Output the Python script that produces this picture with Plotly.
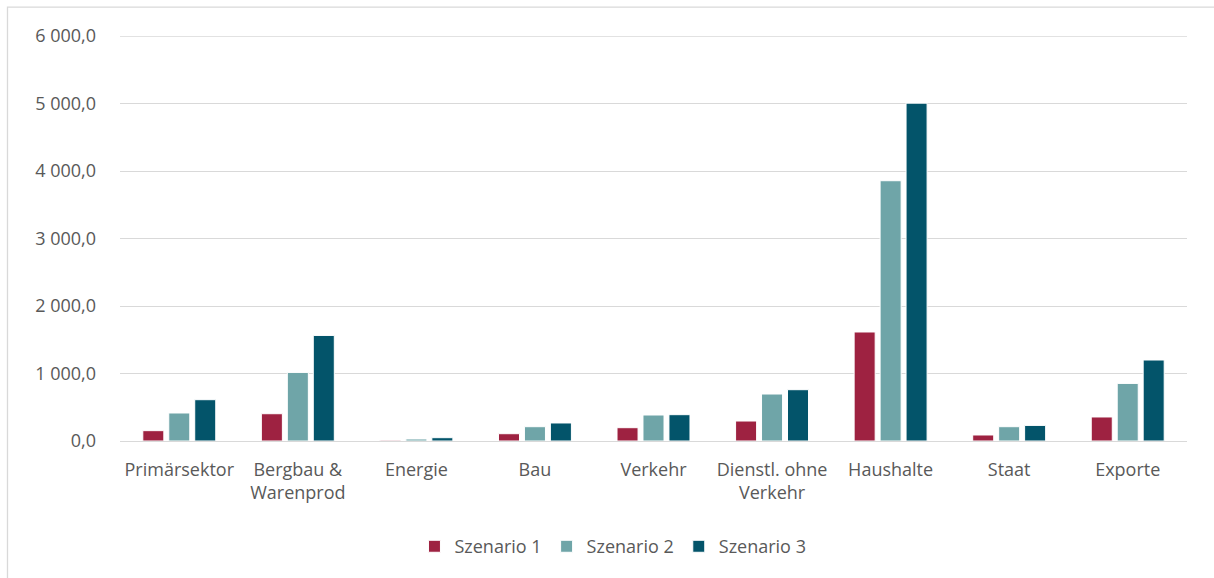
import plotly.graph_objects as go

categories = ["Primärsektor", "Bergbau &<br>Warenprod", "Energie", "Bau", "Verkehr",
              "Dienstl. ohne<br>Verkehr", "Haushalte", "Staat", "Exporte"]
szenario1 = [153, 404, 12, 108, 197, 296, 1615, 89, 356]
szenario2 = [415, 1016, 30, 212, 385, 696, 3856, 212, 853]
szenario3 = [612, 1564, 49, 267, 390, 760, 5005, 231, 1200]
series_names = ["Szenario 1", "Szenario 2", "Szenario 3"]
colors = ["#9E2241", "#6FA5A8", "#03546A"]
y_ticks = [0, 1000, 2000, 3000, 4000, 5000, 6000]
y_tick_labels = ["0,0", "1 000,0", "2 000,0", "3 000,0", "4 000,0", "5 000,0", "6 000,0"]

W, H = 1214, 578
L, R, T, B = 120, 1187, 35.5, 441.5

fig = go.Figure()
for name, vals, c in zip(series_names, [szenario1, szenario2, szenario3], colors):
    fig.add_trace(go.Bar(
        x=categories, y=vals, name=name,
        marker=dict(color=c, line=dict(color="white", width=1)),
    ))

font = dict(family="Open Sans, Noto Sans, sans-serif", size=18, color="#595959")

fig.update_layout(
    width=W, height=H,
    margin=dict(l=L, r=W - R, t=T, b=H - B, pad=0),
    paper_bgcolor="white", plot_bgcolor="white",
    barmode="group", bargap=0.343, bargroupgap=0.19,
    font=font,
    showlegend=True,
    legend=dict(orientation="h", x=0.462, xanchor="center", y=-0.215, yanchor="top",
                font=font, itemwidth=30, traceorder="normal"),
    xaxis=dict(showgrid=False, showline=False, ticks="", tickfont=font,
               ticklabelstandoff=16, automargin=False),
    yaxis=dict(range=[0, 6000], tickvals=y_ticks, ticktext=y_tick_labels,
               showgrid=True, gridcolor="#d9d9d9", gridwidth=1.3,
               zeroline=True, zerolinecolor="#d9d9d9", zerolinewidth=1.3,
               showline=False, ticks="", tickfont=font, ticklabelstandoff=23,
               automargin=False),
)

pw, ph = R - L, B - T
def px_to_paper_x(px):
    return (px - L) / pw
def px_to_paper_y(py):
    return (B - py) / ph

# top gridline at 6000 (coincides with the plot edge)
fig.add_shape(type="line", xref="paper", yref="y", x0=0, x1=1, y0=6000, y1=6000,
              line=dict(color="#d9d9d9", width=1.3), layer="below")

fig.add_shape(type="rect", xref="paper", yref="paper",
              x0=px_to_paper_x(7.5), x1=px_to_paper_x(1230),
              y0=px_to_paper_y(600), y1=px_to_paper_y(6.5),
              line=dict(color="#d9d9d9", width=1.3), fillcolor="rgba(0,0,0,0)", layer="below")

fig.write_html("out.html")
